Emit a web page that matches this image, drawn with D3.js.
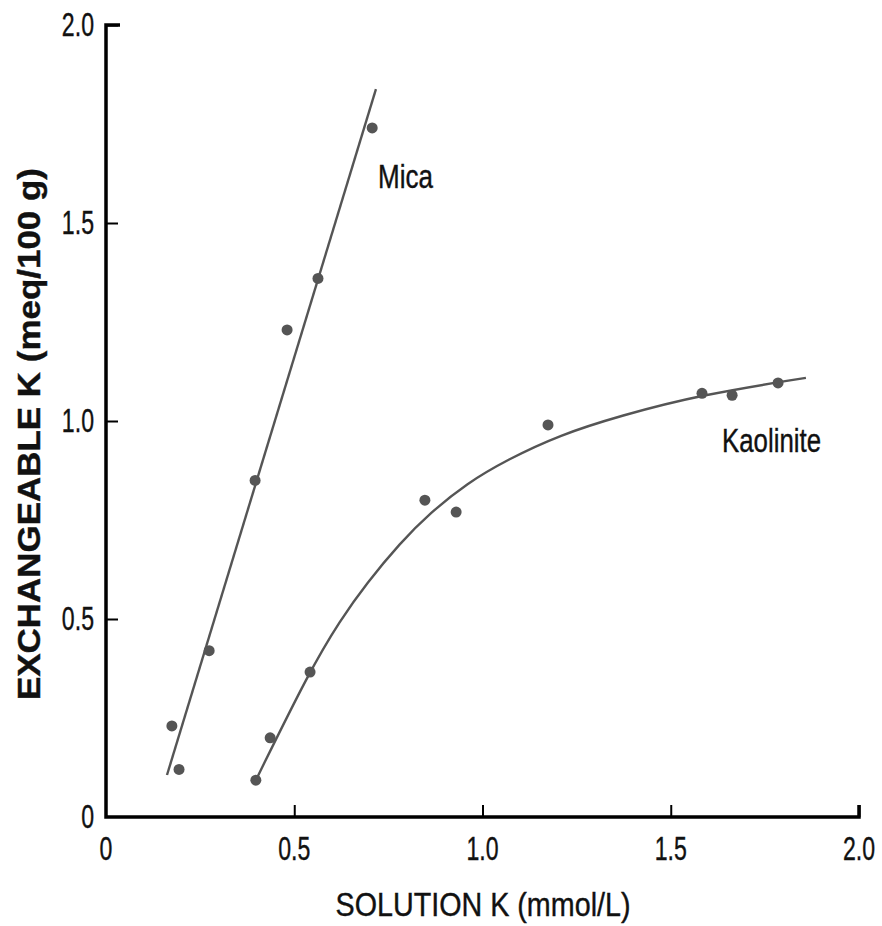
<!DOCTYPE html>
<html>
<head>
<meta charset="utf-8">
<script src="https://cdn.jsdelivr.net/npm/d3@7"></script>
<style>
	body { margin: 0; background: #fff; }
	text { font-family: "Liberation Sans", Arial, sans-serif; fill: #111; stroke: #111; stroke-width: 0.4; }
</style>
</head>
<body>
<svg width="882" height="926"></svg>
<script>
/*
Set up SVG
*/
var svg = d3.select('svg'),
	width = + svg.attr('width'),
	height = + svg.attr('height');

const markColor = '#555555';

/*
Data
*/
const xTicks = [0, 0.5, 1.0, 1.5, 2.0];
const xTickLabels = ['0', '0.5', '1.0', '1.5', '2.0'];
const yTicks = [0, 0.5, 1.0, 1.5, 2.0];
const yTickLabels = ['0', '0.5', '1.0', '1.5', '2.0'];

// Mica observations
const micaX = [0.175, 0.194, 0.274, 0.396, 0.481, 0.563, 0.707];
const micaY = [0.23, 0.12, 0.42, 0.85, 1.23, 1.36, 1.74];
// Mica fitted line endpoints
const micaLineX = [0.162, 0.717];
const micaLineY = [0.106, 1.838];

// Kaolinite observations
const kaoX = [0.398, 0.436, 0.542, 0.847, 0.930, 1.174, 1.583, 1.663, 1.785];
const kaoY = [0.093, 0.20, 0.366, 0.80, 0.77, 0.99, 1.07, 1.065, 1.096];
// Kaolinite fitted curve
const kaoCurveX = [0.398, 0.542, 0.622, 0.693, 0.781, 0.861, 0.959, 1.065, 1.206, 1.365, 1.578, 1.859];
const kaoCurveY = [0.093, 0.371, 0.497, 0.591, 0.692, 0.768, 0.843, 0.902, 0.965, 1.013, 1.066, 1.109];

/*
Scales
*/
var x = d3.scaleLinear().domain([0, 2]).range([106, 859]);
var y = d3.scaleLinear().domain([0, 2]).range([817, 25]);

/*
Axes
*/
var xAxis = svg.append('g')
	.attr('transform', 'translate(0,' + y(0) + ')')
	.call(d3.axisTop(x).tickValues(xTicks.slice(1)).tickSize(12).tickFormat(''));
var yAxis = svg.append('g')
	.attr('transform', 'translate(' + x(0) + ',0)')
	.call(d3.axisRight(y).tickValues(yTicks.slice(1)).tickSize(12).tickFormat(''));

[xAxis, yAxis].forEach(function(a){
	a.select('.domain').remove();
	a.selectAll('line').attr('stroke', '#000').attr('stroke-width', 2);
});

// thick axis frame lines
svg.append('path')
	.attr('d', 'M' + (x(0) + 14) + ',' + y(2) + 'H' + x(0) + 'V' + y(0) + 'H' + x(2) + 'V' + (y(0) - 12))
	.attr('fill', 'none')
	.attr('stroke', '#000')
	.attr('stroke-width', 3.5);

// narrow text helper (the original type is tall and condensed)
function narrowText(g, px, py, str, size, anchor){
	return g.append('text')
		.attr('transform', 'translate(' + px + ',' + py + ') scale(0.68,1)')
		.attr('text-anchor', anchor)
		.attr('font-size', size)
		.text(str);
}

// tick labels
var xLab = svg.append('g');
xTicks.forEach(function(d, i){
	narrowText(xLab, x(d), 860, xTickLabels[i], 34, 'middle');
});
var yLab = svg.append('g');
yTicks.forEach(function(d, i){
	narrowText(yLab, 94, y(d) + 11, yTickLabels[i], 34, 'end');
});

// axis titles
svg.append('text')
	.attr('x', 483)
	.attr('y', 916)
	.attr('text-anchor', 'middle')
	.attr('font-size', 34)
	.attr('textLength', 295)
	.attr('lengthAdjust', 'spacingAndGlyphs')
	.text('SOLUTION K (mmol/L)');

svg.append('text')
	.attr('transform', 'translate(40,434) rotate(-90)')
	.attr('text-anchor', 'middle')
	.attr('font-size', 31)
	.attr('font-weight', 'bold')
	.attr('textLength', 532)
	.attr('lengthAdjust', 'spacingAndGlyphs')
	.text('EXCHANGEABLE K (meq/100 g)');

/*
Fitted lines
*/
var line = d3.line()
	.x(function(d){ return x(d[0]); })
	.y(function(d){ return y(d[1]); });

svg.append('path')
	.datum(d3.zip(micaLineX, micaLineY))
	.attr('d', line)
	.attr('fill', 'none')
	.attr('stroke', markColor)
	.attr('stroke-width', 2.4);

svg.append('path')
	.datum(d3.zip(kaoCurveX, kaoCurveY))
	.attr('d', line.curve(d3.curveBasis))
	.attr('fill', 'none')
	.attr('stroke', markColor)
	.attr('stroke-width', 2.4);

/*
Points
*/
function drawPoints(xs, ys){
	svg.append('g').selectAll('circle')
		.data(d3.zip(xs, ys))
		.enter().append('circle')
			.attr('cx', function(d){ return x(d[0]); })
			.attr('cy', function(d){ return y(d[1]); })
			.attr('r', 5.5)
			.attr('fill', markColor);
}
drawPoints(micaX, micaY);
drawPoints(kaoX, kaoY);

// series labels
svg.append('text')
	.attr('x', 378)
	.attr('y', 188)
	.attr('font-size', 34)
	.attr('textLength', 55)
	.attr('lengthAdjust', 'spacingAndGlyphs')
	.text('Mica');
svg.append('text')
	.attr('x', 722)
	.attr('y', 452)
	.attr('font-size', 34)
	.attr('textLength', 99)
	.attr('lengthAdjust', 'spacingAndGlyphs')
	.text('Kaolinite');
</script>
</body>
</html>
